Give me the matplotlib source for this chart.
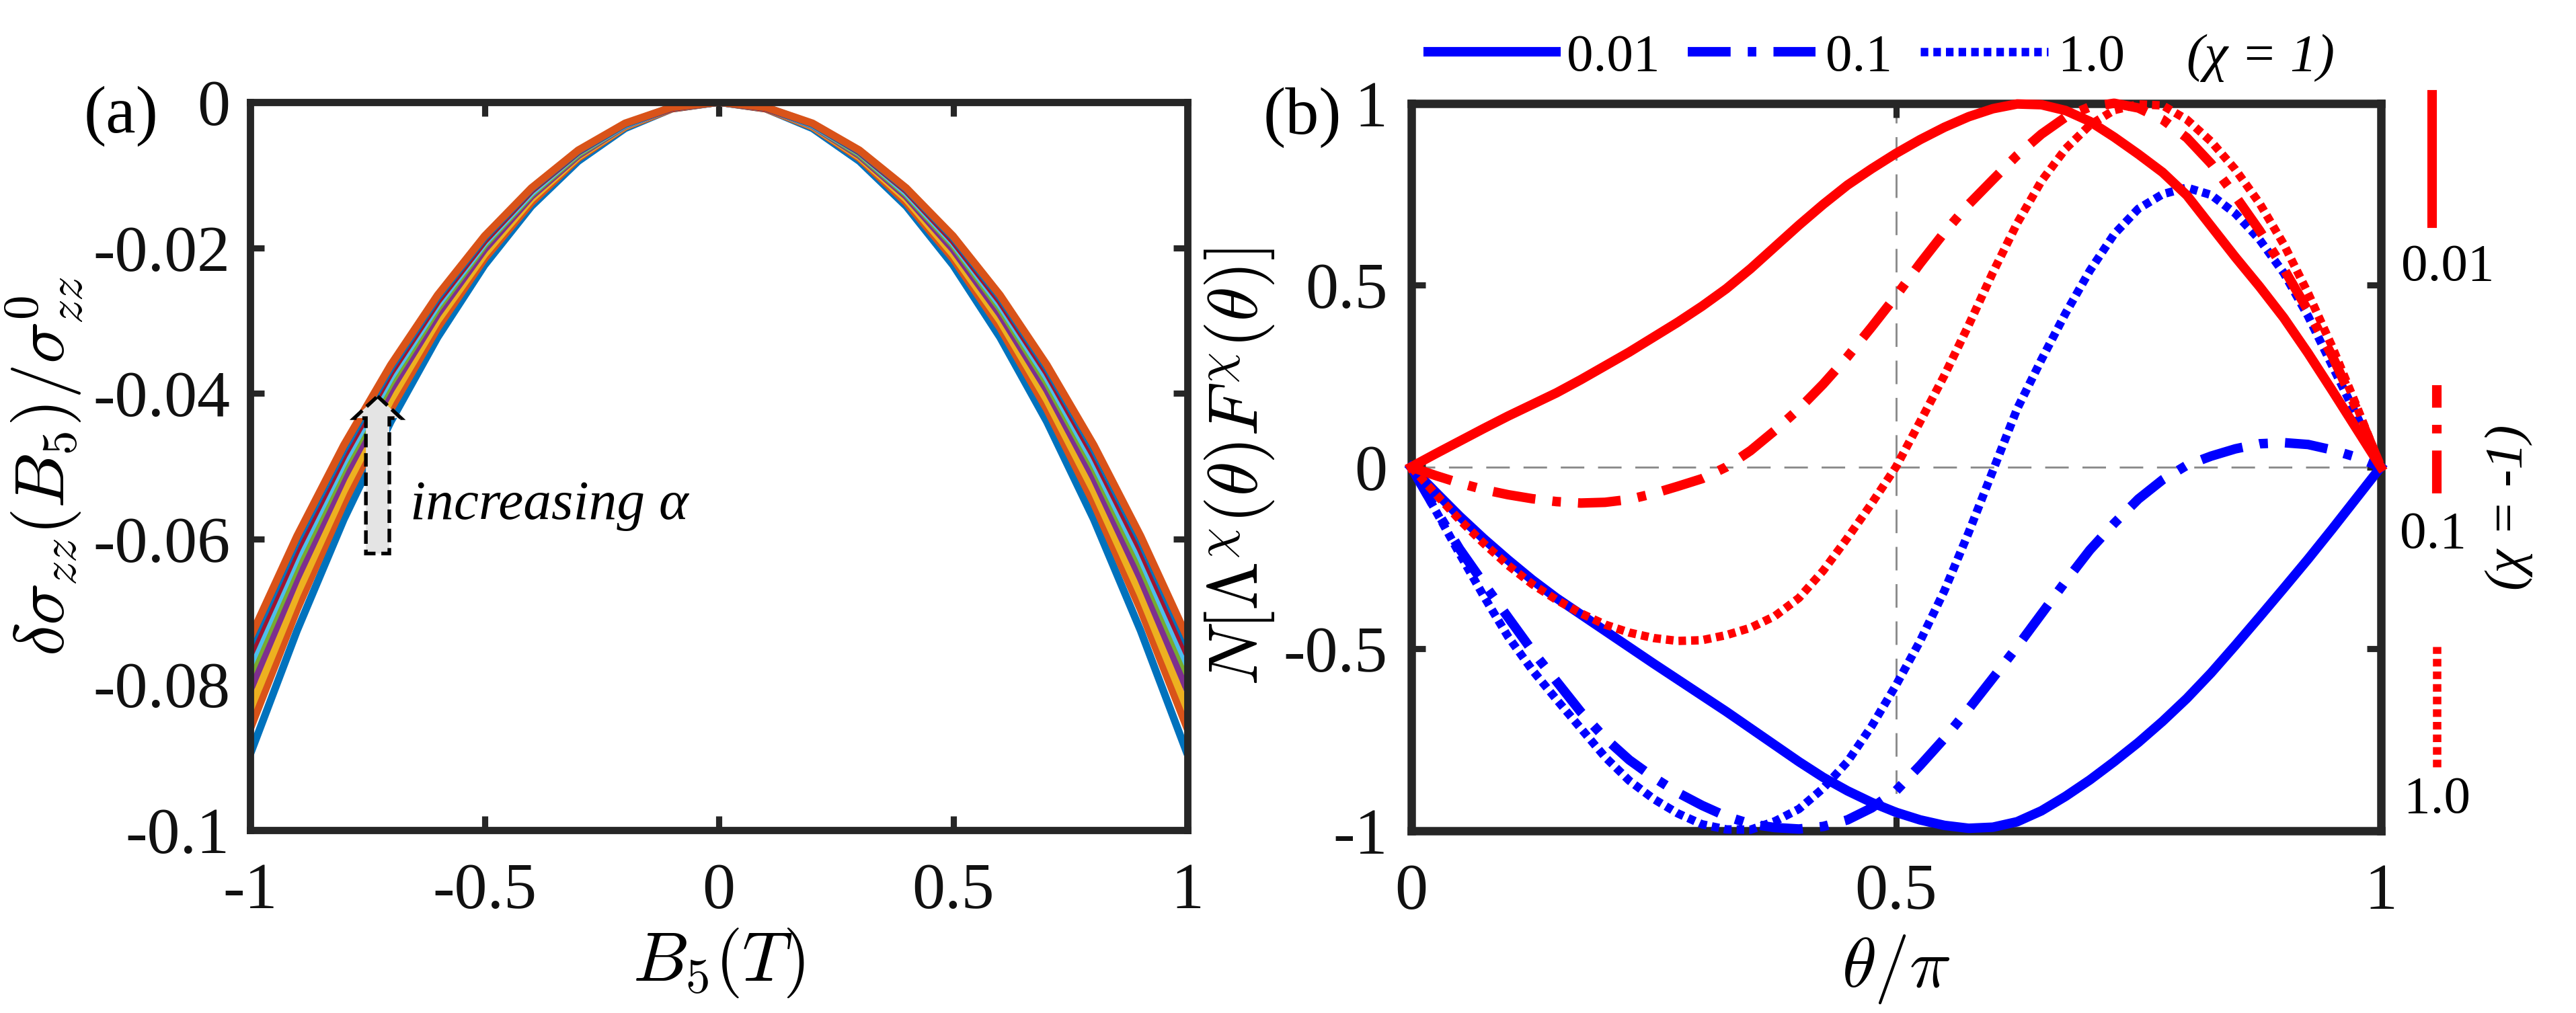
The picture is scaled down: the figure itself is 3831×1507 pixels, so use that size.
import matplotlib
matplotlib.use('Agg')
import matplotlib.pyplot as plt
from matplotlib.lines import Line2D
from matplotlib.patches import FancyArrow
from matplotlib import font_manager

serif_names = ['Liberation Serif', 'Times New Roman', 'Nimbus Roman', 'DejaVu Serif']
available = {f.name for f in font_manager.fontManager.ttflist}
chosen = [n for n in serif_names if n in available]
plt.rcParams['font.family'] = 'serif'
plt.rcParams['font.serif'] = chosen + ['DejaVu Serif']
plt.rcParams['mathtext.fontset'] = 'cm'
plt.rcParams['axes.unicode_minus'] = False

# ---------------- data: panel (a) ----------------
B5 = [-1.0, -0.9, -0.8, -0.7, -0.6, -0.5, -0.4, -0.3, -0.2, -0.1, 0.0,
      0.1, 0.2, 0.3, 0.4, 0.5, 0.6, 0.7, 0.8, 0.9, 1.0]
sig_1 = [-0.0896, -0.0726, -0.0573, -0.0439, -0.0323, -0.0224, -0.0143, -0.0081, -0.0036, -0.0009, 0.0,
         -0.0009, -0.0036, -0.0081, -0.0143, -0.0224, -0.0323, -0.0439, -0.0573, -0.0726, -0.0896]
sig_2 = [-0.0861, -0.0697, -0.0551, -0.0422, -0.0310, -0.0215, -0.0138, -0.0077, -0.0034, -0.0009, 0.0,
         -0.0009, -0.0034, -0.0077, -0.0138, -0.0215, -0.0310, -0.0422, -0.0551, -0.0697, -0.0861]
sig_3 = [-0.0834, -0.0676, -0.0534, -0.0409, -0.0300, -0.0209, -0.0133, -0.0075, -0.0033, -0.0008, 0.0,
         -0.0008, -0.0033, -0.0075, -0.0133, -0.0209, -0.0300, -0.0409, -0.0534, -0.0676, -0.0834]
sig_4 = [-0.0807, -0.0654, -0.0516, -0.0395, -0.0291, -0.0202, -0.0129, -0.0073, -0.0032, -0.0008, 0.0,
         -0.0008, -0.0032, -0.0073, -0.0129, -0.0202, -0.0291, -0.0395, -0.0516, -0.0654, -0.0807]
sig_5 = [-0.0785, -0.0636, -0.0502, -0.0385, -0.0283, -0.0196, -0.0126, -0.0071, -0.0031, -0.0008, 0.0,
         -0.0008, -0.0031, -0.0071, -0.0126, -0.0196, -0.0283, -0.0385, -0.0502, -0.0636, -0.0785]
sig_6 = [-0.0772, -0.0625, -0.0494, -0.0378, -0.0278, -0.0193, -0.0124, -0.0069, -0.0031, -0.0008, 0.0,
         -0.0008, -0.0031, -0.0069, -0.0124, -0.0193, -0.0278, -0.0378, -0.0494, -0.0625, -0.0772]
sig_7 = [-0.0758, -0.0614, -0.0485, -0.0371, -0.0273, -0.0190, -0.0121, -0.0068, -0.0030, -0.0008, 0.0,
         -0.0008, -0.0030, -0.0068, -0.0121, -0.0190, -0.0273, -0.0371, -0.0485, -0.0614, -0.0758]
sig_8 = [-0.0745, -0.0603, -0.0477, -0.0365, -0.0268, -0.0186, -0.0119, -0.0067, -0.0030, -0.0007, 0.0,
         -0.0007, -0.0030, -0.0067, -0.0119, -0.0186, -0.0268, -0.0365, -0.0477, -0.0603, -0.0745]
sig_9 = [-0.0736, -0.0596, -0.0471, -0.0361, -0.0265, -0.0184, -0.0118, -0.0066, -0.0029, -0.0007, 0.0,
         -0.0007, -0.0029, -0.0066, -0.0118, -0.0184, -0.0265, -0.0361, -0.0471, -0.0596, -0.0736]
a_colors = ['#0072BD', '#D95319', '#EDB120', '#7E2F8E', '#77AC30',
            '#4DBEEE', '#A2142F', '#0072BD', '#D95319']
a_xticks = [-1, -0.5, 0, 0.5, 1]
a_xticklabels = ['-1', '-0.5', '0', '0.5', '1']
a_yticks = [0, -0.02, -0.04, -0.06, -0.08, -0.1]
a_yticklabels = ['0', '-0.02', '-0.04', '-0.06', '-0.08', '-0.1']

# ---------------- data: panel (b) ----------------
theta = [0.0, 0.025, 0.05, 0.075, 0.1, 0.125, 0.15, 0.175, 0.2, 0.225,
         0.25, 0.275, 0.3, 0.325, 0.35, 0.375, 0.4, 0.425, 0.45, 0.475,
         0.5, 0.525, 0.55, 0.575, 0.6, 0.625, 0.65, 0.675, 0.7, 0.725,
         0.75, 0.775, 0.8, 0.825, 0.85, 0.875, 0.9, 0.925, 0.95, 0.975, 1.0]
blue_001 = [0, -0.068, -0.135, -0.197, -0.255, -0.31, -0.36, -0.405, -0.45, -0.495,
            -0.54, -0.584, -0.628, -0.672, -0.718, -0.764, -0.81, -0.853, -0.89, -0.922,
            -0.949, -0.97, -0.985, -0.993, -0.99, -0.975, -0.945, -0.905, -0.86, -0.81,
            -0.757, -0.699, -0.636, -0.566, -0.49, -0.412, -0.333, -0.253, -0.17, -0.085, 0]
blue_01 = [0, -0.115, -0.225, -0.32, -0.413, -0.505, -0.589, -0.673, -0.745, -0.805,
           -0.853, -0.895, -0.93, -0.96, -0.981, -0.991, -0.995, -0.988, -0.97, -0.937,
           -0.89, -0.82, -0.746, -0.665, -0.58, -0.494, -0.404, -0.314, -0.228, -0.155,
           -0.088, -0.035, 0.005, 0.03, 0.05, 0.064, 0.067, 0.062, 0.047, 0.027, 0]
blue_10 = [0, -0.118, -0.238, -0.355, -0.466, -0.558, -0.639, -0.718, -0.797, -0.862,
           -0.912, -0.952, -0.982, -0.996, -0.997, -0.974, -0.94, -0.883, -0.81, -0.712,
           -0.6, -0.478, -0.34, -0.18, -0.01, 0.16, 0.295, 0.423, 0.54, 0.64,
           0.71, 0.75, 0.768, 0.748, 0.697, 0.625, 0.533, 0.415, 0.278, 0.142, 0]
red_001 = [0, 0.036, 0.071, 0.106, 0.14, 0.172, 0.204, 0.24, 0.278, 0.316,
           0.357, 0.398, 0.442, 0.49, 0.545, 0.605, 0.665, 0.722, 0.775, 0.82,
           0.862, 0.9, 0.934, 0.963, 0.985, 0.998, 0.996, 0.98, 0.95, 0.907,
           0.86, 0.81, 0.747, 0.662, 0.577, 0.496, 0.41, 0.313, 0.21, 0.105, 0]
red_01 = [0, -0.023, -0.044, -0.062, -0.076, -0.087, -0.095, -0.099, -0.097, -0.089,
          -0.073, -0.053, -0.032, 0.0, 0.045, 0.1, 0.16, 0.228, 0.303, 0.385,
          0.47, 0.56, 0.645, 0.722, 0.79, 0.857, 0.915, 0.962, 0.99, 1.0,
          0.987, 0.955, 0.905, 0.834, 0.745, 0.65, 0.545, 0.43, 0.305, 0.16, 0]
red_10 = [0, -0.073, -0.145, -0.21, -0.27, -0.322, -0.365, -0.402, -0.433, -0.455,
          -0.47, -0.478, -0.476, -0.462, -0.442, -0.41, -0.36, -0.285, -0.195, -0.1,
          0.0, 0.125, 0.252, 0.39, 0.535, 0.67, 0.786, 0.875, 0.94, 0.981,
          0.997, 0.994, 0.955, 0.895, 0.818, 0.725, 0.612, 0.478, 0.33, 0.168, 0]
b_labels = ['0.01', '0.1', '1.0']
b_xticks = [0, 0.5, 1]
b_xticklabels = ['0', '0.5', '1']
b_yticks = [-1, -0.5, 0, 0.5, 1]
b_yticklabels = ['-1', '-0.5', '0', '0.5', '1']

# ---------------- figure ----------------
W, H = 3831, 1507
fig = plt.figure(figsize=(W / 300, H / 300), dpi=300)
ax1 = fig.add_axes([372 / W, 1 - 1235 / H, (1766 - 372) / W, (1235 - 152) / H])
ax2 = fig.add_axes([2098.5 / W, 1 - 1236 / H, (3540.7 - 2098.5) / W, (1236 - 153.6) / H])

spine_col = '#262626'
TICK_FS = 23.5
LAB_FS = 25

def style_axes(ax, lw):
    for s in ax.spines.values():
        s.set_linewidth(lw)
        s.set_color(spine_col)
    ax.tick_params(direction='in', top=True, right=True, length=5, width=2.2,
                   color=spine_col, labelsize=TICK_FS, labelcolor='#111111')
    ax.tick_params(axis='x', pad=11.5)

# ----- panel (a)
for ys, c in zip([sig_1, sig_2, sig_3, sig_4, sig_5, sig_6, sig_7, sig_8, sig_9], a_colors):
    ax1.plot(B5, ys, color=c, lw=2.7, solid_capstyle='butt', solid_joinstyle='round')
ax1.set_xlim(-1, 1)
ax1.set_ylim(-0.1, 0)
ax1.set_xticks(a_xticks)
ax1.set_xticklabels(a_xticklabels)
ax1.set_yticks(a_yticks)
ax1.set_yticklabels(a_yticklabels)
style_axes(ax1, 2.6)
ax1.tick_params(axis='y', pad=7.2)
ax1.set_xlabel(r'$B_5(T)$', fontsize=LAB_FS, va='center')
ax1.xaxis.set_label_coords(0.5, -0.182)
ax1.set_ylabel(r'$\delta\sigma_{zz}(B_5)/\sigma^0_{zz}$', fontsize=LAB_FS, va='center')
ax1.yaxis.set_label_coords(-0.22, 0.5)

arrow = FancyArrow(-0.728, -0.062, 0, 0.0216, width=0.05, head_width=0.1,
                   head_length=0.003, length_includes_head=True,
                   facecolor='#e4e4e4', edgecolor='black', linestyle='--', lw=1.3, zorder=5)
ax1.add_patch(arrow)
ax1.text(-0.6585, -0.0554, 'increasing α', fontsize=20, fontstyle='italic',
         ha='left', va='center')
fig.text(180 / W, 1 - 173 / H, '(a)', fontsize=24, ha='center', va='center')

# ----- panel (b)
ax2.axhline(0, color='#8c8c8c', lw=0.7, ls=(0, (12, 7)), zorder=1)
ax2.axvline(0.5, color='#8c8c8c', lw=0.7, ls=(0, (12, 7)), zorder=1)

LW = 3.4
DOT_LW = 3.0
dashdot = (0, (4.5, 1.8, 0.9, 1.8))
dotted = (0, (0.9, 0.6))
styles = [dict(ls='-', lw=LW), dict(ls=dashdot, lw=LW), dict(ls=dotted, lw=DOT_LW)]

for ys, st in zip([blue_001, blue_01, blue_10], styles):
    ax2.plot(theta, ys, color='#0000FF', clip_on=False, zorder=3,
             solid_joinstyle='round', **st)
for ys, st in zip([red_001, red_01, red_10], styles):
    ax2.plot(theta, ys, color='#FF0000', clip_on=False, zorder=3,
             solid_joinstyle='round', **st)

ax2.set_xlim(0, 1)
ax2.set_ylim(-1, 1)
ax2.set_xticks(b_xticks)
ax2.set_xticklabels(b_xticklabels)
ax2.set_yticks(b_yticks)
ax2.set_yticklabels(b_yticklabels)
style_axes(ax2, 3.0)
ax2.tick_params(axis='y', pad=8.4)
ax2.set_xlabel(r'$\theta/\pi$', fontsize=LAB_FS, va='center')
ax2.xaxis.set_label_coords(0.5, -0.19)
ax2.set_ylabel(r'$N[\Lambda^{\chi}(\theta)F^{\chi}(\theta)]$', fontsize=LAB_FS, va='center')
ax2.yaxis.set_label_coords(-0.177, 0.5)
fig.text(1937 / W, 1 - 175 / H, '(b)', fontsize=24, ha='center', va='center')

# top legend (chi = 1)
handles = [Line2D([], [], color='#0000FF', **st) for st in styles]
leg = ax2.legend(handles, b_labels, ncol=3, loc='center left',
                 bbox_to_anchor=(2124 / W, 1 - 86 / H), bbox_transform=fig.transFigure,
                 frameon=False, fontsize=19, handlelength=2.4, handletextpad=0.2,
                 columnspacing=0.52, borderpad=0, borderaxespad=0)
fig.text(3252 / W, 1 - 86 / H, '(χ = 1)', fontsize=19, fontstyle='italic',
         ha='left', va='center')

# right legend (chi = -1), vertical keys
key_x = [3617 / W, 3624 / W, 3624 / W]
key_y = [(332, 141), (734, 573), (1141, 962)]
lab_xy = [(3640, 398), (3619, 796), (3625, 1190)]
for kx, (yb, yt), st, lab, (tx, ty) in zip(key_x, key_y, styles, b_labels, lab_xy):
    fig.add_artist(Line2D([kx, kx], [1 - yb / H, 1 - yt / H], transform=fig.transFigure,
                          color='#FF0000', **st))
    fig.text(tx / W, 1 - ty / H, lab, fontsize=19, ha='center', va='center')
fig.text(3731 / W, 1 - 755 / H, '(χ = -1)', fontsize=19, fontstyle='italic',
         rotation=90, ha='center', va='center')

fig.savefig('out.png', dpi=300)
